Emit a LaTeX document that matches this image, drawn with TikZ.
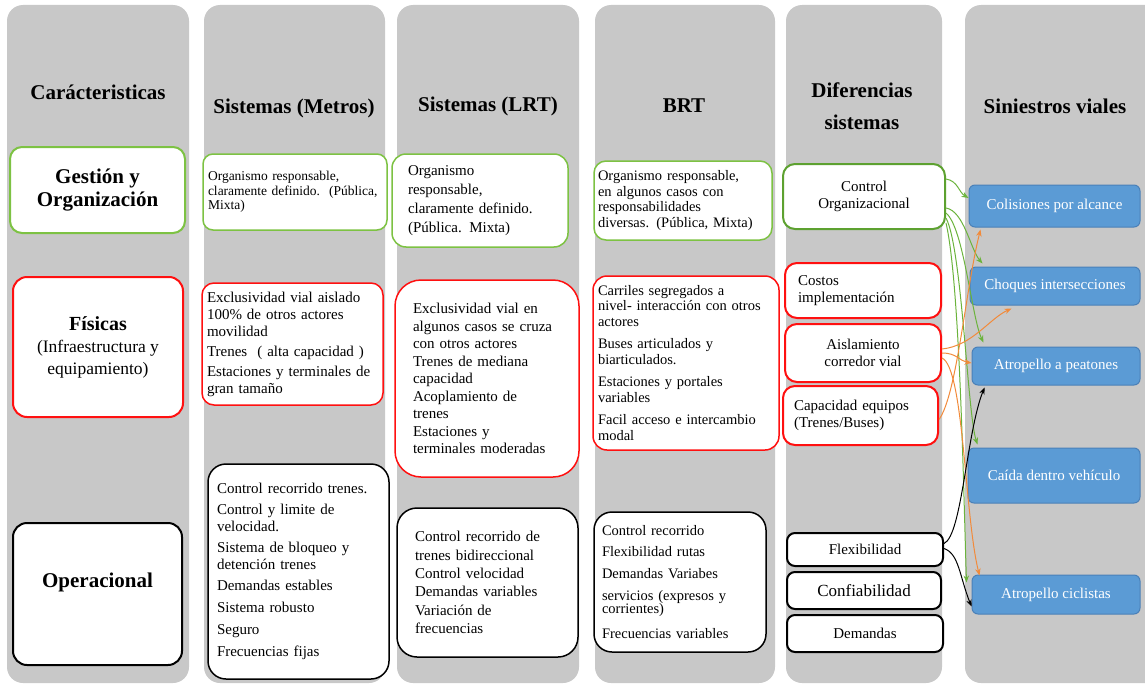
\documentclass[tikz,border=0pt]{standalone}
\usepackage{fontspec}
\setmainfont{Liberation Serif}
\usetikzlibrary{arrows.meta,calc}
\definecolor{colbg}{HTML}{C8C8C8}
\definecolor{lgreen}{HTML}{7DC243}
\definecolor{dgreen}{HTML}{5DA130}
\definecolor{myred}{HTML}{FF1010}
\definecolor{bluefill}{HTML}{5B9BD5}
\definecolor{blueedge}{HTML}{4A80B8}
\definecolor{agreen}{HTML}{6BB33C}
\definecolor{aorange}{HTML}{F28A3A}
\begin{document}
\begin{tikzpicture}[x=1pt,y=-1pt,
  colfill/.style={fill=colbg,rounded corners=16pt},
  hdr/.style={font=\fontsize{21}{24}\selectfont\bfseries,align=center},
  bx/.style={fill=white,line width=1.5pt,rounded corners=10pt,inner ysep=2pt,font=\fontsize{15}{17}\selectfont},
  gbox/.style={bx,draw=lgreen},
  rbox/.style={bx,draw=myred},
  kbox/.style={bx,draw=black},
  sin/.style={fill=bluefill,draw=blueedge,line width=1pt,rounded corners=6pt,text=white,font=\fontsize{15}{17}\selectfont},
  arr/.style={line width=1pt,-{Stealth[length=7pt,width=5.5pt]}},
  ga/.style={arr,draw=agreen},
  oa/.style={arr,draw=aorange},
  ka/.style={arr,draw=black}
]
\useasboundingbox (0,0) rectangle (1145,685);
% column backgrounds
\fill[colfill] (7,5) rectangle (189,683);
\fill[colfill] (204,5) rectangle (385,683);
\fill[colfill] (397,5) rectangle (579,683);
\fill[colfill] (595,5) rectangle (775,683);
\fill[colfill] (786,5) rectangle (942,683);
\begin{scope}
\clip (0,0) rectangle (1145,685);
\fill[colfill] (965,5) rectangle (1175,683);
\end{scope}
% headers
\node[hdr] (h1) at (98,92) {Carácteristicas};
\node[hdr] (h2) at (294,108) {Sistemas (Metros)};
\node[hdr] (h3) at (488,106) {Sistemas (LRT)};
\node[hdr] (h4) at (684,106) {BRT};
\node[hdr] (h5) at (862,106) {Diferencias\\[8pt]sistemas};
\node[hdr] (h6) at (1055,106) {Siniestros viales};
% column 1
\node[bx,draw=lgreen,line width=2pt,rounded corners=12pt,minimum width=175pt,minimum height=86pt,align=center,font=\fontsize{21}{23}\selectfont\bfseries] (k1) at (97.5,190) {Gestión y\\Organización};
\node[bx,draw=myred,line width=2pt,rounded corners=14pt,minimum width=170pt,minimum height=140pt,align=center,font=\fontsize{17.5}{22}\selectfont] (k2) at (98,347) {{\fontsize{20}{22}\selectfont\bfseries Físicas}\\(Infraestructura y\\equipamiento)};
\node[bx,draw=black,line width=2pt,rounded corners=14pt,minimum width=169pt,minimum height=142pt,font=\fontsize{21}{23}\selectfont\bfseries,text depth=27pt] (k3) at (97.5,594) {Operacional};
% column 2 (Metros)
\node[gbox,minimum height=76pt,text width=174pt,inner xsep=5pt,align=left,font=\fontsize{13.5}{14.5}\selectfont] (m1) at (295,192) {Organismo responsable,\\claramente definido.\ \ (Pública,\\Mixta)};
\node[rbox,rounded corners=12pt,minimum height=122pt,text width=171pt,inner xsep=5pt,align=left] (m2) at (292.5,344) {Exclusividad vial aislado\\100\% de otros actores\\movilidad\\[3pt]Trenes~~( alta capacidad )\\[3pt]Estaciones y terminales de\\gran tamaño};
\node[kbox,rounded corners=18pt,minimum height=215pt,text width=163pt,inner xsep=9pt,align=left] (m3) at (298.5,571.5) {Control recorrido trenes.\\[4pt]Control y limite de\\velocidad.\\[4pt]Sistema de bloqueo y\\detención trenes\\[4pt]Demandas estables\\[5pt]Sistema robusto\\[5pt]Seguro\\[5pt]Frecuencias fijas};
% column 3 (LRT)
\node[gbox,rounded corners=14pt,minimum height=93pt,text width=144pt,inner xsep=16pt,align=left,font=\fontsize{15}{19}\selectfont] (l1) at (480,200.5) {Organismo\\responsable,\\claramente definido.\\(Pública. Mixta)};
\node[rbox,rounded corners=26pt,minimum height=197pt,text width=148pt,inner xsep=18pt,align=left,font=\fontsize{15}{17.5}\selectfont] (l2) at (487,378.5) {Exclusividad vial en\\algunos casos se cruza\\con otros actores\\Trenes de mediana\\capacidad\\Acoplamiento de\\trenes\\Estaciones y\\terminales moderadas};
\node[kbox,rounded corners=20pt,minimum height=149pt,text width=145pt,inner xsep=18pt,align=left,font=\fontsize{15}{18.3}\selectfont] (l3) at (487.5,582.5) {Control recorrido de\\trenes bidireccional\\Control velocidad\\Demandas variables\\Variación de\\frecuencias};
% column 4 (BRT)
\node[gbox,rounded corners=12pt,minimum height=79pt,text width=170pt,inner xsep=4pt,align=left,font=\fontsize{14.5}{15.5}\selectfont] (r1) at (683,200.5) {Organismo responsable,\\en algunos casos con\\responsabilidades\\diversas. (Pública, Mixta)};
\node[rbox,rounded corners=14pt,minimum height=174pt,text width=176pt,inner xsep=5pt,align=left,font=\fontsize{14.5}{15.5}\selectfont] (r2) at (686,363) {Carriles segregados a\\nivel- interacción con otros\\actores\\[7pt]Buses articulados y\\biarticulados.\\[7pt]Estaciones y portales\\variables\\[7pt]Facil acceso e intercambio\\modal};
\node[kbox,rounded corners=18pt,minimum height=140pt,text width=156pt,inner xsep=8pt,align=left,font=\fontsize{14.5}{15}\selectfont] (r3) at (680,582) {Control recorrido\\[6pt]Flexibilidad rutas\\[7pt]Demandas Variabes\\[7pt]servicios (expresos y\\[-2pt]corrientes)\\[10pt]Frecuencias variables};
% column 5 (Diferencias)
\node[bx,draw=dgreen,line width=2pt,rounded corners=12pt,minimum width=162pt,minimum height=65pt,align=center] (d1) at (864,196.5) {Control\\Organizacional};
\node[rbox,line width=2pt,rounded corners=12pt,minimum height=55pt,text width=130pt,inner xsep=13pt,align=left] (d2) at (863,290.5) {Costos\\implementación};
\node[rbox,line width=2pt,rounded corners=12pt,minimum width=156pt,minimum height=58pt,align=center] (d3) at (863,353) {Aislamiento\\corredor vial};
\node[rbox,line width=2pt,rounded corners=12pt,minimum height=59pt,text width=133pt,inner xsep=11pt,align=left] (d4) at (860.5,415.5) {Capacidad equipos\\(Trenes/Buses)};
\node[kbox,line width=2pt,rounded corners=8pt,minimum width=156pt,minimum height=33pt] (d5) at (865,549.5) {Flexibilidad};
\node[kbox,line width=2pt,rounded corners=8pt,minimum width=154pt,minimum height=37pt,font=\fontsize{17}{19}\selectfont] (d6) at (864,590.5) {Confiabilidad};
\node[kbox,line width=2pt,rounded corners=8pt,minimum width=156pt,minimum height=37pt] (d7) at (865,633.5) {Demandas};
% column 6 (Siniestros)
\node[sin,minimum width=171pt,minimum height=42pt] (s1) at (1054.5,206) {Colisiones por alcance};
\node[sin,minimum width=170pt,minimum height=38pt] (s2) at (1055,286) {Choques intersecciones};
\node[sin,minimum width=168pt,minimum height=38pt] (s3) at (1056,366) {Atropello a peatones};
\node[sin,minimum width=172pt,minimum height=55pt] (s4) at (1054,475.5) {Caída dentro vehículo};
\node[sin,minimum width=168pt,minimum height=39pt] (s5) at (1056,594.5) {Atropello ciclistas};
% green connectors
\draw[ga] ($(d1.north east)+(0,16)$) .. controls +(12,2) and +(-10,-6) .. ($(s1.west)+(0,-8)$);
\draw[ga] ($(d1.south east)+(0,-22)$) .. controls +(18,3) and +(-12,-14) .. ($(s2.north west)+(13,-3)$);
\draw[ga] ($(d1.south east)+(0,-17)$) .. controls +(18,15) and +(-12,-25) .. ($(s3.north west)+(12,-4)$);
\draw[ga] ($(d1.south east)+(0,-12)$) .. controls +(16,30) and +(-10,-30) .. ($(s4.north west)+(10,-3)$);
\draw[ga] ($(d1.south east)+(0,-7)$) .. controls +(14,60) and +(-3,-90) .. ($(s5.north west)+(-5,8)$);
% orange connectors
\draw[oa] ($(d4.east)+(0,4)$) .. controls +(18,-25) and +(-15,60) .. ($(s1.south west)+(12,2)$);
\draw[oa] ($(d3.east)+(0,-4)$) .. controls +(30,-3) and +(-22,10) .. ($(s2.south west)+(42,3)$);
\draw[oa] (d3.east) .. controls +(15,0) and +(-12,-2) .. ($(s3.west)+(0,-3)$);
\draw[oa] ($(d3.east)+(0,5)$) .. controls +(22,10) and +(-15,-60) .. ($(s5.north west)+(8,1)$);
% black connectors
\draw[ka] ($(d5.east)+(0,-6)$) .. controls +(18,-8) and +(-18,45) .. ($(s3.south west)+(13,2)$);
\draw[ka] ($(d5.east)+(0,-1)$) .. controls +(15,5) and +(-12,-30) .. ($(s5.west)+(0,12)$);
\end{tikzpicture}
\end{document}
